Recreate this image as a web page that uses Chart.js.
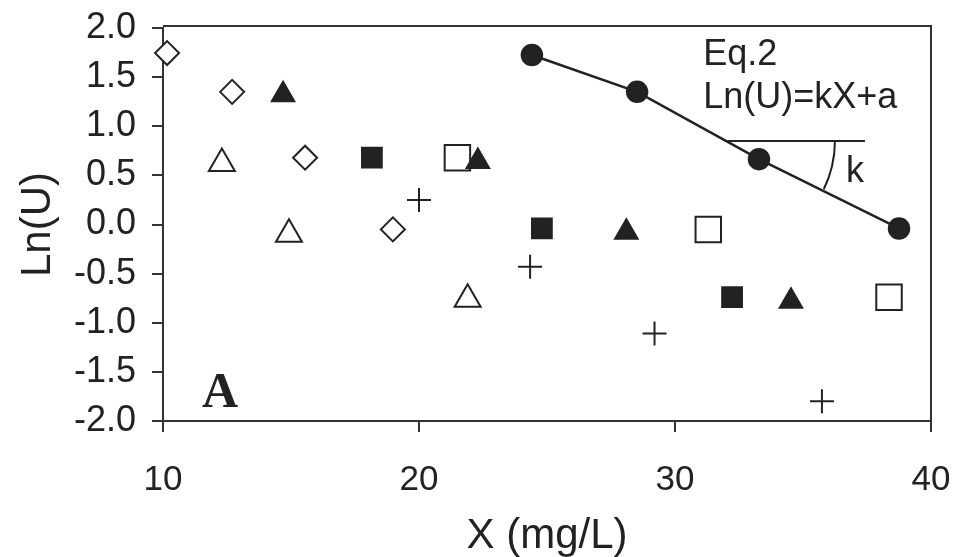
<!DOCTYPE html>
<html>
<head>
<meta charset="utf-8">
<script src="https://cdn.jsdelivr.net/npm/chart.js@4.4.1/dist/chart.umd.min.js"></script>
<style>
  html, body { margin: 0; padding: 0; background: #ffffff; }
  #wrap { width: 958px; height: 557px; }
</style>
</head>
<body>
<div id="wrap"><canvas id="c" width="958" height="557"></canvas></div>
<script>
// ---- data ----
const xTickValues = [10, 20, 30, 40];
const yTickValues = [-2.0, -1.5, -1.0, -0.5, 0.0, 0.5, 1.0, 1.5, 2.0];

const diamondX = [10.16, 12.7, 15.55, 18.98];
const diamondY = [1.745, 1.35, 0.68, -0.05];

const openTriX = [12.3, 14.92, 21.9];
const openTriY = [0.62, -0.10, -0.76];

const filledTriX = [14.69, 22.3, 28.1, 34.53];
const filledTriY = [1.32, 0.64, -0.08, -0.78];

const filledSqX = [18.16, 24.8, 32.23];
const filledSqY = [0.68, -0.04, -0.74];

const openSqX = [21.5, 31.3, 38.36];
const openSqY = [0.68, -0.05, -0.74];

const plusX = [20.0, 24.34, 29.2, 35.74];
const plusY = [0.25, -0.43, -1.11, -1.80];

const circleX = [24.41, 28.52, 33.28, 38.75];
const circleY = [1.725, 1.35, 0.665, -0.04];

// annotation anchors (data units)
const eqLines = ["Eq.2", "Ln(U)=kX+a"];
const slopeLabel = "k";
const panelLabel = "A";
const refLineY = 0.85;
const refLineX = [31.95, 37.42];

// ---- helpers ----
const INK = '#222222';
function pts(xs, ys) { return xs.map((x, i) => ({ x: x, y: ys[i] })); }
function noPad(s) { s.paddingLeft = 0; s.paddingRight = 0; s.paddingTop = 0; s.paddingBottom = 0; }

Chart.defaults.font.family = '"Liberation Sans", Arial, Helvetica, sans-serif';
Chart.defaults.color = INK;

const framePlugin = {
  id: 'frame',
  beforeDatasetsDraw(chart) {
    const { ctx, chartArea: a } = chart;
    ctx.save();
    ctx.strokeStyle = '#333333';
    ctx.lineWidth = 2;
    ctx.beginPath();
    ctx.moveTo(a.left, a.top - 2);
    ctx.lineTo(a.right, a.top - 2);
    ctx.lineTo(a.right, a.bottom);
    ctx.stroke();
    ctx.restore();
  },
  afterDatasetsDraw(chart) {
    const { ctx, scales: { x, y } } = chart;
    ctx.save();
    ctx.strokeStyle = INK;
    ctx.fillStyle = INK;
    ctx.lineWidth = 2;
    const ry = y.getPixelForValue(refLineY);
    const x0 = x.getPixelForValue(refLineX[0]);
    const x1 = x.getPixelForValue(refLineX[1]);
    ctx.beginPath();
    ctx.moveTo(x0, ry);
    ctx.lineTo(x1, ry);
    ctx.stroke();
    ctx.beginPath();
    ctx.arc(x0, ry, 110, 0, 26 * Math.PI / 180, false);
    ctx.stroke();
    ctx.textAlign = 'left';
    ctx.textBaseline = 'alphabetic';
    ctx.font = '36px "Liberation Sans", Arial, sans-serif';
    ctx.fillText(eqLines[0], x.getPixelForValue(31.1), y.getPixelForValue(1.62));
    ctx.fillText(eqLines[1], x.getPixelForValue(31.1), y.getPixelForValue(1.19));
    ctx.fillText(slopeLabel, x.getPixelForValue(36.68), y.getPixelForValue(0.43));
    ctx.font = 'bold 50px "Liberation Serif", "Times New Roman", serif';
    ctx.fillText(panelLabel, x.getPixelForValue(11.52), y.getPixelForValue(-1.86));
    ctx.restore();
  }
};

const common = { clip: false, borderWidth: 2, borderColor: INK, showLine: false };

new Chart(document.getElementById('c'), {
  type: 'scatter',
  data: {
    datasets: [
      Object.assign({}, common, { label: 'diamond', data: pts(diamondX, diamondY), pointStyle: 'rectRot', pointRadius: 12, backgroundColor: '#ffffff' }),
      Object.assign({}, common, { label: 'open triangle', data: pts(openTriX, openTriY), pointStyle: 'triangle', pointRadius: 15, backgroundColor: '#ffffff' }),
      Object.assign({}, common, { label: 'filled triangle', data: pts(filledTriX, filledTriY), pointStyle: 'triangle', pointRadius: 13, backgroundColor: INK }),
      Object.assign({}, common, { label: 'filled square', data: pts(filledSqX, filledSqY), pointStyle: 'rect', pointRadius: 14, backgroundColor: INK }),
      Object.assign({}, common, { label: 'open square', data: pts(openSqX, openSqY), pointStyle: 'rect', pointRadius: 18, backgroundColor: '#ffffff' }),
      Object.assign({}, common, { label: 'plus', data: pts(plusX, plusY), pointStyle: 'cross', pointRadius: 12, backgroundColor: INK }),
      Object.assign({}, common, { label: 'circle', data: pts(circleX, circleY), pointStyle: 'circle', pointRadius: 10, backgroundColor: INK, showLine: true, borderWidth: 2.5 })
    ]
  },
  options: {
    responsive: false,
    animation: false,
    events: [],
    layout: { padding: { top: 28, right: 27, left: 0, bottom: 0 } },
    plugins: { legend: { display: false }, tooltip: { enabled: false } },
    scales: {
      x: {
        type: 'linear', min: 10, max: 40,
        afterBuildTicks(s) { s.ticks = xTickValues.map(v => ({ value: v })); },
        afterFit(s) { s.height = 136; noPad(s); },
        ticks: { font: { size: 35 }, color: INK, padding: 27, maxRotation: 0, callback: v => String(v) },
        grid: { drawOnChartArea: false, drawTicks: true, tickLength: 11, color: '#333333', lineWidth: 2 },
        border: { display: true, color: '#333333', width: 2 },
        title: { display: true, text: 'X (mg/L)', font: { size: 42 }, color: INK, padding: { top: 0, bottom: -5 } }
      },
      y: {
        type: 'linear', min: -2, max: 2,
        afterBuildTicks(s) { s.ticks = yTickValues.map(v => ({ value: v })); },
        afterFit(s) { s.width = 163; noPad(s); },
        ticks: { font: { size: 36 }, color: INK, padding: 16, callback: v => Number(v).toFixed(1) },
        grid: { drawOnChartArea: false, drawTicks: true, tickLength: 11, color: '#333333', lineWidth: 2 },
        border: { display: true, color: '#333333', width: 2 },
        title: { display: true, text: 'Ln(U)', font: { size: 42 }, color: INK, padding: { top: 13, bottom: 0 } }
      }
    }
  },
  plugins: [framePlugin]
});
</script>
</body>
</html>
